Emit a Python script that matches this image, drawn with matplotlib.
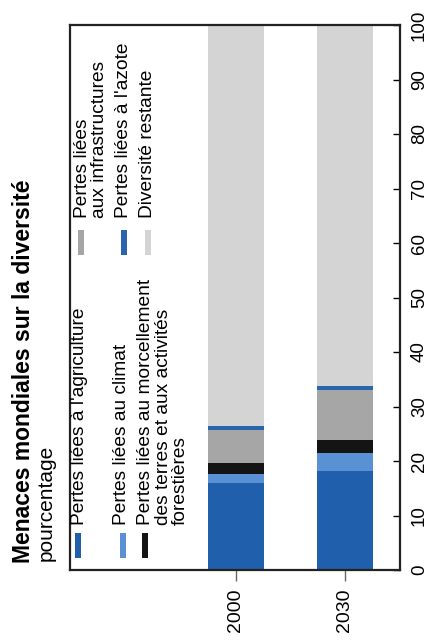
import matplotlib
matplotlib.use("Agg")
import matplotlib.pyplot as plt
from matplotlib.patches import Rectangle

plt.rcParams['font.family'] = ['Liberation Sans', 'DejaVu Sans']

# Données (pourcentage de la diversité d'origine)
annees = ['2000', '2030']
agriculture = [16.0, 18.2]
climat = [1.7, 3.3]
morcellement = [2.0, 2.4]
infrastructures = [6.0, 9.1]
azote = [0.8, 0.8]
restante = [73.5, 66.2]

series = [agriculture, climat, morcellement, infrastructures, azote, restante]
couleurs = ['#1f5fac', '#5a90d4', '#141414', '#a6a6a6', '#2a64ac', '#d4d4d4']
libelles = [
    "Pertes liées à l'agriculture",
    "Pertes liées au climat",
    "Pertes liées au morcellement\ndes terres et aux activités\nforestières",
    "Pertes liées\naux infrastructures",
    "Pertes liées à l'azote",
    "Diversité restante",
]

W, H = 434, 644
fig = plt.figure(figsize=(W / 100, H / 100), dpi=100)


def fx(px):
    return px / W


def fy(py):
    return 1 - py / H


ax = fig.add_axes([fx(70), fy(570), fx(400) - fx(70), fy(25) - fy(570)])

# barres empilées verticales, texte pivoté de 90°
pos = [0, 1]
bas = [0.0, 0.0]
for vals, c in zip(series, couleurs):
    ax.bar(pos, vals, width=0.52, bottom=bas, color=c, linewidth=0)
    bas = [b + v for b, v in zip(bas, vals)]

ax.set_xlim(-1.523, 1.505)
ax.set_ylim(0, 100)

for s in ax.spines.values():
    s.set_linewidth(1.6)
    s.set_color('#222222')

ax.yaxis.tick_right()
ax.set_yticks(range(0, 101, 10))
ax.set_yticklabels([str(v) for v in range(0, 101, 10)], rotation=90, va='center')
ax.tick_params(axis='y', direction='in', length=5, width=1, labelsize=13.5, pad=8)

ax.set_xticks(pos)
ax.set_xticklabels(annees, rotation=90, ha='center', va='top')
ax.tick_params(axis='x', direction='out', length=8, width=1, color='#666666',
               labelsize=14, pad=5)

# titre
fig.text(fx(24), fy(563), "Menaces mondiales sur la diversité", rotation=90,
         ha='center', va='bottom', fontsize=16.5, fontweight='bold')
fig.text(fx(46), fy(561), "pourcentage", rotation=90, ha='center', va='bottom',
         fontsize=15)

# légende dessinée à la main (deux groupes de trois)
entrees = [
    # (x patch, y bas patch, centre x texte, bas texte)
    (75, 558, 79, 525),
    (120, 558, 121, 525),
    (142, 558, 163, 525),
    (78, 255, 91, 218),
    (121, 255, 124, 218),
    (145, 255, 148, 218),
]
for (px, py, tx, ty), c, lab in zip(entrees, couleurs, libelles):
    fig.patches.append(Rectangle((fx(px), fy(py)), fx(6), fy(0) - fy(25),
                                 transform=fig.transFigure, color=c,
                                 linewidth=0))
    fig.text(fx(tx), fy(ty), lab, rotation=90, ha='center', va='bottom',
             multialignment='left', fontsize=13.8, linespacing=1.0)

fig.savefig("out.png", dpi=100)
